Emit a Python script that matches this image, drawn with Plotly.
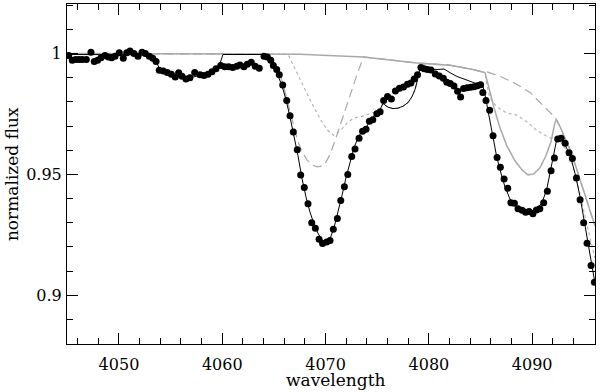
import plotly.graph_objects as go

# observed spectrum (dots)
wl_obs = [4045.13, 4045.48, 4045.80, 4046.13, 4046.45, 4046.84, 4047.29, 4047.61, 4047.93, 4048.26,
          4048.65, 4048.97, 4049.29, 4049.62, 4050.03, 4050.42, 4050.75, 4051.07, 4051.45, 4051.84,
          4052.23, 4052.55, 4052.94, 4053.27, 4053.59, 4053.90, 4054.29, 4054.68, 4055.07, 4055.45,
          4055.78, 4056.10, 4056.49, 4056.87, 4057.33, 4057.84, 4058.23, 4058.62, 4059.00, 4059.39,
          4059.85, 4060.24, 4060.62, 4061.01, 4061.40, 4061.71, 4062.10, 4062.42, 4062.81, 4063.19,
          4063.58, 4064.04, 4064.36, 4064.69, 4064.94, 4065.27, 4065.52, 4065.85, 4066.24, 4066.56,
          4066.88, 4067.26, 4067.59, 4067.94, 4068.30, 4068.66, 4069.01, 4069.37, 4069.71, 4070.10,
          4070.43, 4070.75, 4071.14, 4071.47, 4071.82, 4072.15, 4072.53, 4072.85, 4073.24, 4073.58,
          4073.92, 4074.24, 4074.57, 4074.96, 4075.28, 4075.62, 4076.00, 4076.37, 4076.76, 4077.15,
          4077.54, 4077.93, 4078.26, 4078.58, 4078.90, 4079.23, 4079.55, 4079.87, 4080.20, 4080.62,
          4081.01, 4081.40, 4081.73, 4082.07, 4082.43, 4082.78, 4083.07, 4083.36, 4083.69, 4084.04,
          4084.37, 4084.69, 4085.01, 4085.22, 4085.53, 4085.88, 4086.21, 4086.60, 4086.92, 4087.28,
          4087.63, 4087.94, 4088.28, 4088.63, 4089.02, 4089.37, 4089.70, 4090.07, 4090.41, 4090.74,
          4091.11, 4091.47, 4091.83, 4092.15, 4092.47, 4092.80, 4093.19, 4093.57, 4093.89, 4094.28,
          4094.64, 4094.98, 4095.31, 4095.70, 4096.02]
flux_obs = [0.9992, 0.9972, 0.9975, 0.9975, 0.9975, 0.9975, 1.0005, 0.9967, 0.9972, 0.9983,
            0.9992, 0.9986, 0.9983, 0.9989, 1.0003, 0.9980, 1.0003, 1.0011, 1.0000, 0.9989,
            1.0005, 1.0000, 0.9989, 0.9980, 0.9967, 0.9931, 0.9928, 0.9922, 0.9914, 0.9903,
            0.9920, 0.9906, 0.9895, 0.9900, 0.9922, 0.9912, 0.9909, 0.9914, 0.9925, 0.9937,
            0.9950, 0.9945, 0.9945, 0.9942, 0.9947, 0.9953, 0.9945, 0.9956, 0.9964, 0.9947,
            0.9939, 0.9989, 0.9986, 0.9972, 0.9950, 0.9934, 0.9912, 0.9870, 0.9806, 0.9743,
            0.9675, 0.9602, 0.9497, 0.9446, 0.9378, 0.9300, 0.9277, 0.9231, 0.9214, 0.9220,
            0.9226, 0.9273, 0.9317, 0.9392, 0.9449, 0.9499, 0.9574, 0.9605, 0.9649, 0.9678,
            0.9687, 0.9720, 0.9726, 0.9751, 0.9759, 0.9806, 0.9822, 0.9812, 0.9845, 0.9856,
            0.9862, 0.9873, 0.9878, 0.9895, 0.9912, 0.9942, 0.9937, 0.9934, 0.9932, 0.9915,
            0.9907, 0.9898, 0.9881, 0.9876, 0.9866, 0.9844, 0.9820, 0.9855, 0.9858, 0.9861,
            0.9863, 0.9867, 0.9871, 0.9839, 0.9806, 0.9765, 0.9660, 0.9570, 0.9529, 0.9481,
            0.9443, 0.9383, 0.9380, 0.9358, 0.9351, 0.9343, 0.9346, 0.9337, 0.9353, 0.9358,
            0.9383, 0.9430, 0.9515, 0.9568, 0.9646, 0.9649, 0.9629, 0.9589, 0.9566, 0.9485,
            0.9395, 0.9300, 0.9215, 0.9123, 0.9054]

# combined model (black)
wl_fit = [4044.97, 4053.20, 4053.58, 4053.97, 4054.94, 4055.91, 4056.87, 4057.84, 4058.81, 4059.58,
          4059.87, 4060.07, 4063.84, 4064.23, 4064.62, 4065.00, 4065.39, 4065.78, 4066.17, 4066.55,
          4066.94, 4067.33, 4067.71, 4068.10, 4068.49, 4068.88, 4069.26, 4069.65, 4070.03, 4070.42,
          4070.81, 4071.20, 4071.58, 4071.97, 4072.36, 4072.75, 4073.14, 4073.52, 4073.91, 4074.30,
          4074.78, 4075.27, 4075.56, 4076.04, 4076.53, 4077.01, 4077.49, 4077.98, 4078.37, 4078.66,
          4078.95, 4079.14, 4079.43, 4079.92, 4080.79, 4081.46, 4082.04, 4082.72, 4083.69, 4084.65,
          4085.23, 4085.38, 4085.62, 4085.91, 4086.23, 4086.56, 4086.88, 4087.36, 4087.85, 4088.49,
          4089.13, 4089.62, 4090.27, 4090.92, 4091.40, 4091.72, 4092.04, 4092.37, 4092.54, 4093.01,
          4093.66, 4094.14, 4094.63, 4095.11, 4095.60, 4096.08]
flux_fit = [0.9996, 0.9995, 0.9967, 0.9934, 0.9913, 0.9902, 0.9900, 0.9909, 0.9919, 0.9934,
            0.9967, 0.9996, 0.9996, 0.9988, 0.9971, 0.9942, 0.9909, 0.9867, 0.9809, 0.9739,
            0.9660, 0.9577, 0.9485, 0.9407, 0.9344, 0.9295, 0.9257, 0.9228, 0.9220, 0.9232,
            0.9278, 0.9340, 0.9411, 0.9485, 0.9552, 0.9610, 0.9651, 0.9680, 0.9693, 0.9722,
            0.9747, 0.9768, 0.9793, 0.9778, 0.9772, 0.9774, 0.9782, 0.9797, 0.9822, 0.9851,
            0.9900, 0.9938, 0.9942, 0.9936, 0.9934, 0.9936, 0.9921, 0.9905, 0.9890, 0.9876,
            0.9865, 0.9842, 0.9784, 0.9714, 0.9643, 0.9574, 0.9519, 0.9449, 0.9398, 0.9366,
            0.9346, 0.9342, 0.9353, 0.9380, 0.9436, 0.9505, 0.9574, 0.9643, 0.9658, 0.9636,
            0.9581, 0.9505, 0.9408, 0.9283, 0.9159, 0.9049]

# component models (grey)
wl_solid = [4044.97, 4057.84, 4067.52, 4073.62, 4078.85, 4082.04, 4084.27, 4085.43, 4085.62, 4085.91,
            4086.30, 4086.88, 4087.55, 4088.33, 4089.00, 4089.59, 4090.17, 4090.75, 4091.33, 4091.82,
            4092.20, 4092.35, 4092.69, 4093.18, 4093.66, 4094.14, 4094.63, 4095.11, 4095.60, 4096.08]
flux_solid = [1.0000, 1.0000, 0.9997, 0.9986, 0.9961, 0.9952, 0.9934, 0.9921, 0.9892, 0.9842,
              0.9776, 0.9693, 0.9618, 0.9556, 0.9519, 0.9498, 0.9502, 0.9527, 0.9577, 0.9635,
              0.9714, 0.9726, 0.9698, 0.9651, 0.9602, 0.9544, 0.9477, 0.9411, 0.9344, 0.9286]

wl_dash = [4044.97, 4057.84, 4064.07, 4064.65, 4065.23, 4065.81, 4066.39, 4066.88, 4067.26, 4067.72,
           4068.20, 4068.69, 4069.17, 4069.65, 4069.98, 4070.46, 4071.11, 4071.75, 4072.40, 4073.04,
           4073.68, 4078.85, 4082.04, 4084.27, 4085.43, 4085.56, 4086.92, 4088.37, 4089.82, 4091.08,
           4092.24, 4092.69, 4093.18, 4093.66, 4094.14, 4094.63, 4095.11, 4095.60, 4096.08]
flux_dash = [1.0000, 1.0000, 0.9998, 0.9983, 0.9950, 0.9884, 0.9793, 0.9710, 0.9643, 0.9593,
             0.9560, 0.9539, 0.9531, 0.9534, 0.9546, 0.9585, 0.9664, 0.9747, 0.9837, 0.9913,
             0.9986, 0.9961, 0.9952, 0.9934, 0.9921, 0.9925, 0.9905, 0.9876, 0.9838, 0.9784,
             0.9734, 0.9698, 0.9651, 0.9602, 0.9544, 0.9477, 0.9411, 0.9344, 0.9286]

wl_dot = [4044.97, 4057.84, 4066.20, 4066.42, 4066.91, 4067.55, 4068.20, 4068.84, 4069.49, 4070.13,
          4070.78, 4071.42, 4072.07, 4072.71, 4073.52, 4074.33, 4075.10, 4075.56, 4076.04, 4076.53,
          4077.01, 4077.49, 4077.98, 4078.37, 4078.66, 4078.95, 4079.14, 4079.60, 4082.04, 4084.27,
          4085.43, 4085.60, 4085.91, 4086.56, 4087.53, 4088.49, 4089.46, 4090.43, 4091.40, 4092.04,
          4092.69, 4093.27, 4093.85, 4094.43, 4095.01, 4095.60, 4096.08]
flux_dot = [1.0000, 1.0000, 0.9997, 0.9992, 0.9947, 0.9892, 0.9834, 0.9780, 0.9728, 0.9685,
            0.9662, 0.9680, 0.9712, 0.9733, 0.9740, 0.9751, 0.9763, 0.9793, 0.9778, 0.9772,
            0.9774, 0.9782, 0.9797, 0.9822, 0.9851, 0.9900, 0.9938, 0.9958, 0.9952, 0.9934,
            0.9921, 0.9871, 0.9817, 0.9780, 0.9754, 0.9745, 0.9718, 0.9683, 0.9657, 0.9646,
            0.9639, 0.9602, 0.9548, 0.9456, 0.9344, 0.9237, 0.9154]

x_range = [4044.97, 4096.08]
y_range = [0.8798, 1.0205]

grey = "#a9a9a9"
font = dict(family="DejaVu Serif", size=16, color="black")
title_font = dict(family="DejaVu Serif", size=17, color="black")

fig = go.Figure()
fig.add_trace(go.Scatter(x=wl_dot, y=flux_dot, mode="lines",
                         line=dict(color="#b4b4b4", width=1.2, dash="dot")))
fig.add_trace(go.Scatter(x=wl_dash, y=flux_dash, mode="lines",
                         line=dict(color=grey, width=1.2, dash="9px,5px")))
fig.add_trace(go.Scatter(x=wl_solid, y=flux_solid, mode="lines",
                         line=dict(color=grey, width=1.5)))
fig.add_trace(go.Scatter(x=wl_fit, y=flux_fit, mode="lines",
                         line=dict(color="black", width=1)))
# dots sit on the overlay axes (same ranges) so those axes, with the inside ticks, get drawn
fig.add_trace(go.Scatter(x=wl_obs, y=flux_obs, mode="markers", xaxis="x2", yaxis="y2",
                         marker=dict(color="black", size=7)))

# labelled axes: invisible outside ticks only used to push the labels away from the frame
lab = dict(showline=True, linecolor="black", linewidth=1, mirror=True, ticks="outside",
           tickcolor="rgba(0,0,0,0)", showgrid=False, zeroline=False, tickfont=font,
           automargin=False)
# unlabelled overlay axes: the visible inside ticks on all four sides
tk = dict(showline=False, ticks="inside", ticklen=11, tickcolor="black", mirror="allticks",
          showticklabels=False, showgrid=False, zeroline=False, automargin=False)

fig.update_layout(
    xaxis=dict(range=x_range, dtick=10, tick0=4050, ticklen=6, **lab),
    yaxis=dict(range=y_range, dtick=0.05, tick0=0.9, ticklen=1, **lab),
    xaxis2=dict(range=x_range, dtick=10, tick0=4050, overlaying="x", anchor="y2",
                minor=dict(dtick=2, ticks="inside", ticklen=6, tickcolor="black"), **tk),
    yaxis2=dict(range=y_range, dtick=0.05, tick0=0.9, overlaying="y", anchor="x2",
                minor=dict(dtick=0.01, ticks="inside", ticklen=6, tickcolor="black"), **tk),
    width=600, height=392, showlegend=False,
    margin=dict(l=67, r=5, t=4, b=48),
    plot_bgcolor="white", paper_bgcolor="white", font=font)

fig.add_annotation(text="wavelength", xref="paper", yref="paper", x=0.51, y=-0.07,
                   xanchor="center", yanchor="top", showarrow=False, font=title_font)
fig.add_annotation(text="normalized flux", xref="paper", yref="paper", x=-0.104, y=0.5,
                   xanchor="center", yanchor="middle", textangle=-90, showarrow=False,
                   font=title_font)

# page body has a default margin that would push the figure off the window
fig.write_html("out.html", config={"displayModeBar": False},
               post_script="document.body.style.margin='0';")
